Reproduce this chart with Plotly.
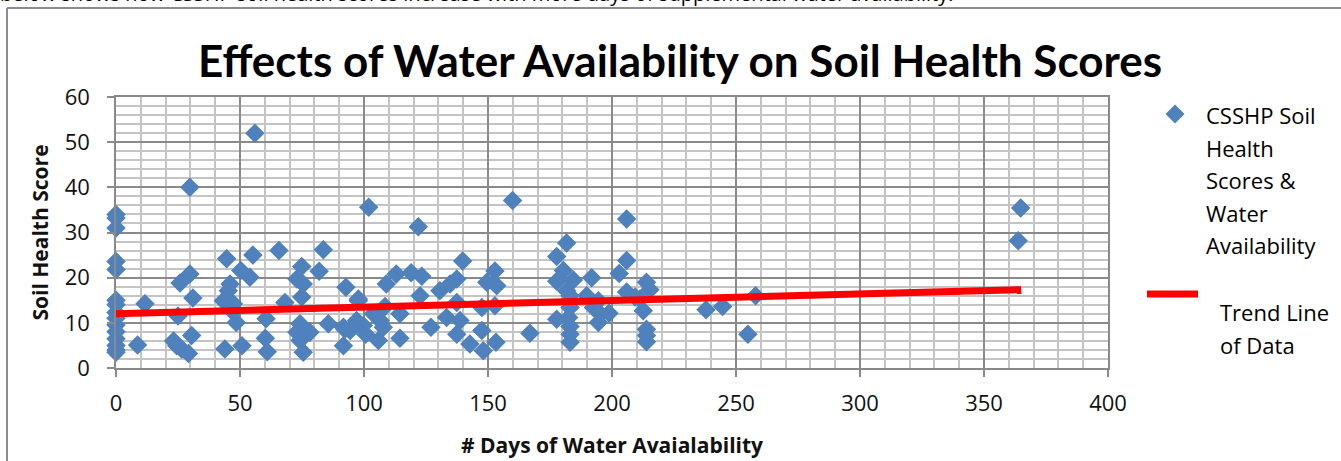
import plotly.graph_objects as go

# ---------------- data ----------------
days = [0, 0, 0, 0, 0, 0, 0, 0, 0, 0, 0, 0, 0, 0, 0,
        8.7, 11.7,
        25, 25.8, 29.8, 31, 29.8, 30.5, 24.5, 23.2, 26.5, 29.2,
        44.6, 46, 45.3, 43.3, 47.3, 48.5, 47, 43.9, 50.8, 50.3, 54, 55.2, 56,
        60.5, 60.2, 61, 65.7, 68.1, 83.6, 74.9, 81.9, 72.9, 75.5, 74.9, 74.2, 72.9, 78.2, 74.2, 75.5,
        85.6, 92.7, 91.7, 91.7, 97.7, 101.9, 121.9,
        97, 100.7, 94.4, 105.8, 109, 113, 119, 123.3, 122.6, 114.5, 108.5, 114.5, 106.5, 103.8,
        127, 99.7, 107.8, 97.7, 92.3,
        130.6, 134.7, 137.4, 139.8, 137.4, 133.3, 138.7, 137.4, 142.7, 147.5, 148.1, 153.2,
        147.5, 152.8, 149.5, 153.5, 152.8, 159.9, 166.9,
        177.7, 181.7, 180.4, 177.7, 184.4, 181.7, 183.1, 183.1, 177.7, 182.5, 183.1, 183.1, 183.1,
        189.8, 191.8, 192.5, 194.5, 194.5, 195.2, 198.8,
        202.9, 205.9, 205.9, 205.9, 209.3, 211.3, 212.6, 213.9, 215.3, 213.9, 213.9, 213.9,
        237.9, 244.6, 254.8, 257.9, 363.8, 364.8]
scores = [34.0, 33.2, 31.0, 23.6, 21.8, 15.0, 14.0, 12.3, 11.0, 9.5, 8.0, 6.5, 5.0, 4.0, 3.5,
          5.1, 14.2,
          11.5, 18.8, 20.8, 15.5, 40.0, 7.2, 4.9, 6.0, 4.2, 3.2,
          24.2, 18.6, 17.1, 14.9, 14.2, 10.1, 12.5, 4.2, 4.9, 21.6, 20.1, 25.0, 52.0,
          10.9, 6.6, 3.6, 26.0, 14.5, 26.2, 22.5, 21.4, 19.7, 18.6, 15.7, 9.8, 7.9, 7.9, 6.1, 3.5,
          9.8, 17.9, 9.0, 4.9, 15.3, 35.6, 31.3,
          10.5, 7.5, 8.3, 6.1, 18.6, 20.8, 21.1, 20.3, 16.0, 12.0, 13.6, 6.6, 10.5, 12.0,
          9.0, 9.4, 9.0, 14.9, 8.6,
          17.1, 18.6, 19.7, 23.7, 14.5, 11.2, 10.5, 7.5, 5.3, 8.3, 3.8, 5.7,
          13.4, 13.8, 19.0, 18.2, 21.5, 37.1, 7.7,
          24.7, 27.7, 21.6, 19.2, 19.5, 17.1, 13.4, 16.0, 10.8, 11.2, 9.2, 7.5, 5.7,
          16.0, 20.0, 13.4, 14.9, 10.1, 12.0, 12.1,
          20.9, 33.0, 23.8, 16.8, 15.7, 15.3, 12.7, 19.0, 17.3, 8.6, 7.2, 5.8,
          12.9, 13.6, 7.5, 16.0, 28.2, 35.4]

trend_x = [0, 365]
trend_y = [12.0, 17.35]

x_ticks = [0, 50, 100, 150, 200, 250, 300, 350, 400]
y_ticks = [0, 10, 20, 30, 40, 50, 60]

title_text = "Effects of Water Availability on Soil Health Scores"
x_title = "# Days of Water Avaialability"
y_title = "Soil Health Score"
legend_scatter_lines = ["CSSHP Soil", "Health", "Scores &", "Water", "Availability"]
legend_trend_lines = ["Trend Line", "of Data"]
intro_text = ("below shows how CSSHP soil health scores increase with more days "
              "of supplemental water availability.")

# ---------------- layout geometry ----------------
W, H = 1341, 461
L, R, T, B = 116, 233, 97, 93
PW, PH = W - L - R, H - T - B

def pxx(px):
    return (px - L) / PW

def pxy(py):
    return (H - B - py) / PH

BLUE = "#4F81BD"
RED = "#FF0000"
TFONT = "Lato"
FONT = "Open Sans"

fig = go.Figure()
fig.add_trace(go.Scatter(x=days, y=scores, mode="markers",
                         marker=dict(symbol="diamond", size=15, color=BLUE),
                         showlegend=False, cliponaxis=False))
fig.add_trace(go.Scatter(x=trend_x, y=trend_y, mode="lines",
                         line=dict(color=RED, width=7), showlegend=False))

MAJOR = "#8a8a8a"
MINOR = "#c4c4c4"

fig.update_xaxes(range=[0, 400], tickvals=x_ticks, showgrid=True, gridcolor=MAJOR, gridwidth=1.5,
                 minor=dict(dtick=10, showgrid=True, gridcolor=MINOR, gridwidth=1.5, ticks=""),
                 showline=True, linecolor=MAJOR, linewidth=1.5, mirror=True,
                 ticks="outside", ticklen=7, tickcolor=MAJOR, tickwidth=1.5,
                 ticklabelstandoff=8, zeroline=False, automargin=False,
                 tickfont=dict(family=FONT, size=22, color="#111"),
                 title=dict(text="<b>" + x_title + "</b>", font=dict(family=FONT, size=21, color="#111"),
                            standoff=22))
fig.update_yaxes(range=[0, 60], tickvals=y_ticks, showgrid=True, gridcolor=MAJOR, gridwidth=1.5,
                 minor=dict(dtick=2, showgrid=True, gridcolor=MINOR, gridwidth=1.5, ticks=""),
                 showline=True, linecolor=MAJOR, linewidth=1.5, mirror=True,
                 ticks="outside", ticklen=7, tickcolor=MAJOR, tickwidth=1.5,
                 ticklabelstandoff=13, zeroline=False, automargin=False,
                 tickfont=dict(family=FONT, size=22, color="#111"),
                 title=dict(text="<b>" + y_title + "</b>", font=dict(family=FONT, size=21, color="#111"),
                            standoff=10))

annotations = []
# intro sentence (cut off at the top of the picture, as in the reference)
annotations.append(dict(text=intro_text, xref="paper", yref="paper", x=pxx(-2), y=pxy(-7),
                        xanchor="left", yanchor="middle", showarrow=False,
                        font=dict(family=FONT, size=20, color="#000")))
# legend texts
for i, t in enumerate(legend_scatter_lines):
    annotations.append(dict(text=t, xref="paper", yref="paper", x=pxx(1204), y=pxy(115 + 32.5 * i),
                            xanchor="left", yanchor="middle", showarrow=False,
                            font=dict(family=FONT, size=22, color="#000")))
for i, t in enumerate(legend_trend_lines):
    annotations.append(dict(text=t, xref="paper", yref="paper", x=pxx(1218), y=pxy(312 + 33 * i),
                            xanchor="left", yanchor="middle", showarrow=False,
                            font=dict(family=FONT, size=22, color="#000")))

shapes = []
# outer frame (top and left edges of the chart box)
shapes.append(dict(type="line", xref="paper", yref="paper", x0=pxx(7), x1=pxx(W + 5),
                   y0=pxy(8), y1=pxy(8), line=dict(color="#8c8c8c", width=2)))
shapes.append(dict(type="line", xref="paper", yref="paper", x0=pxx(7), x1=pxx(7),
                   y0=pxy(8), y1=pxy(H + 5), line=dict(color="#8c8c8c", width=2)))
# legend key: diamond
cx, cy, hw = 1175, 114, 9.5
shapes.append(dict(type="path", xref="paper", yref="paper",
                   path=f"M {pxx(cx - hw)} {pxy(cy)} L {pxx(cx)} {pxy(cy - hw)} L {pxx(cx + hw)} {pxy(cy)} "
                        f"L {pxx(cx)} {pxy(cy + hw)} Z",
                   fillcolor=BLUE, line=dict(width=0)))
# legend key: red line
shapes.append(dict(type="line", xref="paper", yref="paper", x0=pxx(1147), x1=pxx(1198),
                   y0=pxy(294), y1=pxy(294), line=dict(color=RED, width=7)))

fig.update_layout(
    width=W, height=H, margin=dict(l=L, r=R, t=T, b=B),
    paper_bgcolor="white", plot_bgcolor="white",
    title=dict(text="<b>" + title_text + "</b>", x=680 / W, xanchor="center",
               y=1 - 62 / H, yanchor="middle", font=dict(family=TFONT, size=44, color="#000")),
    annotations=annotations, shapes=shapes, showlegend=False,
)

fig.write_html("out.html", config={"displayModeBar": False},
               post_script="document.body.style.margin='0px';document.body.style.overflow='hidden';")
